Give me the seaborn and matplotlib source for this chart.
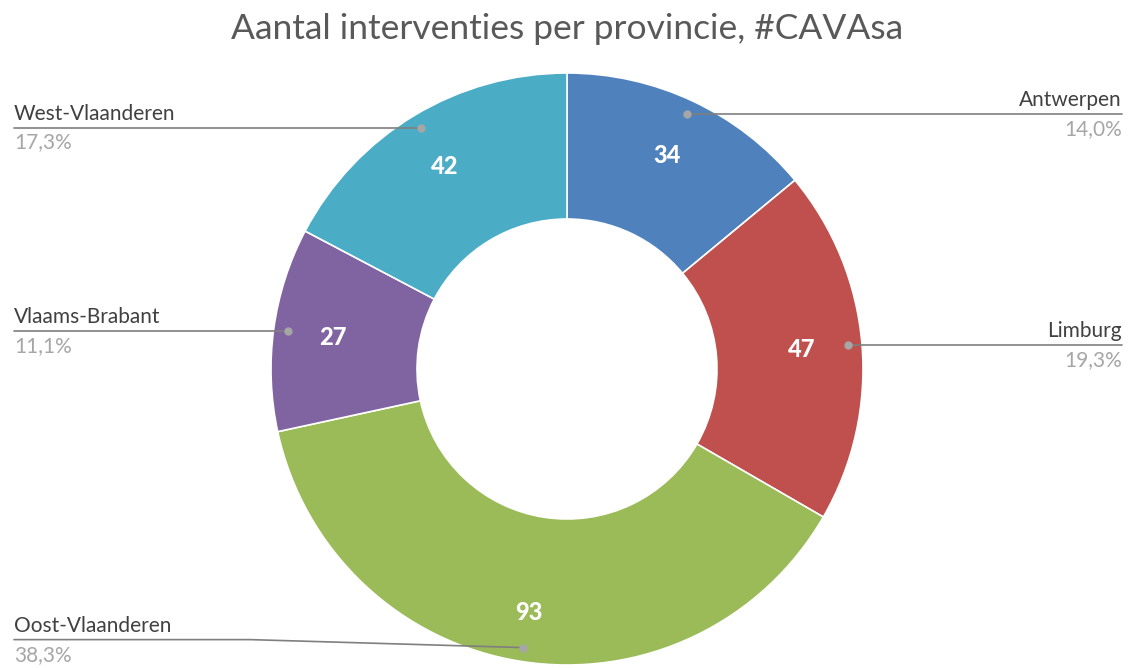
import matplotlib
matplotlib.use("Agg")
import matplotlib.pyplot as plt
import seaborn as sns
import numpy as np

provincies = ["Antwerpen", "Limburg", "Oost-Vlaanderen", "Vlaams-Brabant", "West-Vlaanderen"]
interventies = [34, 47, 93, 27, 42]
kleuren = ["#4F81BD", "#C0504D", "#9BBB59", "#8064A2", "#4BACC6"]
titel = "Aantal interventies per provincie, #CAVAsa"

sns.set_theme(style="white")
plt.rcParams['font.family'] = ['Lato', 'DejaVu Sans']

W, H = 1128, 668
fig = plt.figure(figsize=(W / 100, H / 100), dpi=100)
ax = fig.add_axes([0, 0, 1, 1])
ax.set_aspect("equal")
ax.axis("off")

cx, cy = 567, H - 369
R = 296
wedges, _ = ax.pie(interventies, colors=sns.color_palette(kleuren), startangle=90,
                   counterclock=False, center=(cx, cy), radius=R,
                   wedgeprops=dict(width=146, edgecolor="white", linewidth=1.2))
ax.set_xlim(0, W)
ax.set_ylim(0, H)

totaal = sum(interventies)
cum = np.cumsum([0] + interventies)
for i, (naam, v) in enumerate(zip(provincies, interventies)):
    mid = np.deg2rad((cum[i] + v / 2) / totaal * 360)
    sx, sy = np.sin(mid), np.cos(mid)
    r_val = 236 if v < 90 else 246
    ax.text(cx + r_val * sx, cy + r_val * sy, str(v), color="white", fontsize=17,
            fontweight="black", ha="center", va="center")
    dx, dy = cx + 282 * sx, cy + 282 * sy
    ax.plot(dx, dy, "o", color="#A6A6A6", ms=5, zorder=5)
    rechts = sx > 0
    ly = dy
    if naam == "Oost-Vlaanderen":
        ly = dy + 8
        xs = [dx, 250, 14]
        ys = [dy, ly, ly]
    elif rechts:
        xs = [dx, 1122]
        ys = [dy, ly]
    else:
        xs = [dx, 14]
        ys = [dy, ly]
    ax.plot(xs, ys, color="#7F7F7F", lw=1.2, zorder=4)
    tx = 1122 if rechts else 14
    ha = "right" if rechts else "left"
    pct = f"{v / totaal * 100:.1f}%".replace(".", ",")
    ax.text(tx, ly + 4, naam, color="#404040", fontsize=15, ha=ha, va="bottom")
    ax.text(tx, ly - 5, pct, color="#A6A6A6", fontsize=15, ha=ha, va="top")

fig.text(567 / W, 1 - 29 / H, titel, color="#595959", fontsize=25.5, ha="center", va="center")

fig.savefig("out.png", dpi=100)
